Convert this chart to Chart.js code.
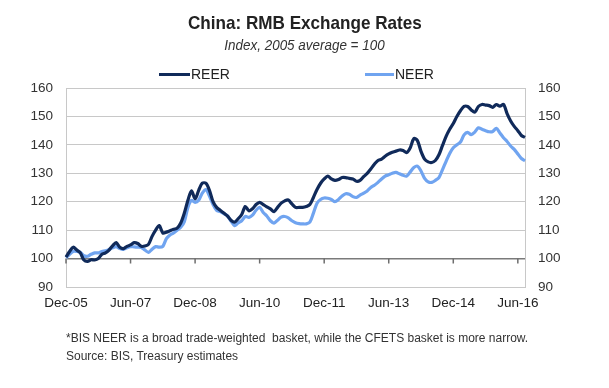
<!DOCTYPE html>
<html>
<head>
<meta charset="utf-8">
<script src="https://cdn.jsdelivr.net/npm/chart.js@4.4.1/dist/chart.umd.min.js"></script>
<style>
    body { margin: 0; background: #fff; }
    #wrap { position: relative; width: 609px; height: 388px; overflow: hidden; background: #fff;
        font-family: 'Liberation Sans Narrow', 'Arial Narrow', 'Liberation Sans', Arial, sans-serif; color: #222; }
    #chart { position: absolute; left: 0; top: 0; }
    .title { position: absolute; left: 0; width: 609px; text-align: center; white-space: nowrap; }
    .title span { display: inline-block; }
    .legend-line { position: absolute; height: 3px; }
    .legend-text { position: absolute; font-size: 14px; line-height: 16px; color: #222; }
    .note { position: absolute; left: 66px; font-size: 12px; line-height: 14px; color: #333; white-space: nowrap; }
</style>
</head>
<body>
<div id="wrap">
    <canvas id="chart" width="609" height="388"></canvas>
    <div class="title" style="top: 12px; font-size: 19px; line-height: 22px; font-weight: bold;"><span style="transform: scaleX(0.9);">China: RMB Exchange Rates</span></div>
    <div class="title" style="top: 37px; font-size: 14px; line-height: 16px; font-style: italic; color: #333;"><span style="transform: scaleX(0.96);">Index, 2005 average = 100</span></div>

    <div class="legend-line" style="left: 159px; top: 73px; width: 31px; background: #102a5a;"></div>
    <div class="legend-text" style="left: 191px; top: 66px;">REER</div>
    <div class="legend-line" style="left: 365px; top: 73px; width: 29px; background: #70a4f0;"></div>
    <div class="legend-text" style="left: 395px; top: 66px;">NEER</div>

    <div class="note" style="top: 331px;">*BIS NEER is a broad trade-weighted&nbsp; basket, while the CFETS basket is more narrow.</div>
    <div class="note" style="top: 349px;">Source: BIS, Treasury estimates</div>
</div>

<script>
// monthly, Dec-05 .. Aug-16
const monthNames = ['Jan', 'Feb', 'Mar', 'Apr', 'May', 'Jun', 'Jul', 'Aug', 'Sep', 'Oct', 'Nov', 'Dec'];
const months = [];
for (let i = 0; i < 129; i++) {
    const m = (11 + i) % 12;
    const y = 5 + Math.floor((11 + i) / 12);
    months.push(monthNames[m] + '-' + String(y).padStart(2, '0'));
}

const tickLabels = ['Dec-05', 'Jun-07', 'Dec-08', 'Jun-10', 'Dec-11', 'Jun-13', 'Dec-14', 'Jun-16'];
const yTicks = [90, 100, 110, 120, 130, 140, 150, 160];

const reer = [
    100.5, 102.5, 104, 103, 102, 99.5, 99, 99.6, 99.5, 100, 101.5, 102,
    103, 104.5, 105.6, 104, 103.5, 104.3, 104.8, 105.6, 105.3, 104.3, 104.4, 105,
    107.8, 110, 111.6, 109, 109.3, 109.8, 110.3, 110.7, 112.5, 116, 120.5, 123.8,
    121, 124, 126.5, 126.5, 124, 120, 118, 117, 116, 115, 113.5, 112.8,
    114, 115.5, 118.3, 116.8, 117.5, 119, 119.8, 119, 118.2, 117.5, 116.5, 118,
    119.5, 120.3, 120.6, 119.2, 118, 118, 118, 118.3, 119, 121.5, 124.3, 126.5,
    128, 129, 128, 127.5, 127.8, 128.5, 128.5, 128.2, 128, 127.2, 127.5, 128.8,
    130, 131.5, 133.2, 134.5, 135, 136, 136.8, 137.4, 137.8, 138.2, 138, 137.3,
    139, 142.2, 141.5, 137.7, 135, 134, 133.8, 134.5, 136.5, 139.8, 143, 145.5,
    147.5, 150, 152, 153.5, 153.5, 152.3, 151.5, 153.5, 154.2, 154, 153.8, 153.2,
    154.2, 153.6, 154.2, 151, 148.4, 146.5, 145, 143.3, 142.6
];

const neer = [
    100.3, 101.5, 102.5, 102.5, 102.2, 101, 100.8, 101.5, 102, 102, 102.5, 102.7,
    103.2, 103.8, 104.2, 103.5, 103.2, 103.8, 104.2, 104.1, 104, 103.9, 103, 102.2,
    103.3, 104.2, 104, 104.3, 107, 108.3, 109, 110, 111, 113, 118, 120.5,
    119.8, 120.5, 123, 124.3, 122, 119, 117, 116.5, 115.8, 115, 113.2, 111.6,
    112.5, 113.3, 114.8, 114.5, 115.3, 117, 118, 116.2, 115, 113.3, 112.5, 113.5,
    114.6, 114.8, 114.3, 113.3, 112.6, 112.3, 112.2, 112.2, 112.8, 116, 119.5, 120.8,
    121.3, 121.2, 120.8, 120, 120.8, 122, 122.8, 122.6, 121.8, 121.5, 122.3, 123,
    123.8, 125, 125.8, 126.8, 128, 129, 129.5, 130, 130.3, 129.8, 129.3, 129,
    130.5, 132, 132.5, 130.8, 128.2, 127, 126.8, 127.5, 128.5, 131.3, 134.2, 137,
    139, 140, 141, 143.5, 144.4, 143.6, 144.5, 146, 145.5, 145, 144.6, 144.7,
    145.8, 144.2, 142.5, 141.2, 139.6, 138.4, 136.8, 135.2, 134.4
];

const navy = '#102a5a';
const lightBlue = '#70a4f0';
const gridGray = '#c8c8c8';

Chart.defaults.font.family = "'Liberation Sans Narrow', 'Arial Narrow', 'Liberation Sans', Arial, sans-serif";
Chart.defaults.font.size = 13.5;
Chart.defaults.color = '#333';

// small tick marks hanging under the 100 line
const baseTicks = {
    id: 'baseTicks',
    beforeDatasetsDraw(chart) {
        const { ctx, scales: { x, y } } = chart;
        const y0 = y.getPixelForValue(100);
        ctx.save();
        ctx.strokeStyle = '#6e6e6e';
        ctx.lineWidth = 1.5;
        ctx.beginPath();
        months.forEach((m, i) => {
            if (!tickLabels.includes(m)) return;
            const px = x.getPixelForValue(i);
            ctx.moveTo(px, y0);
            ctx.lineTo(px, y0 + 5);
        });
        ctx.stroke();
        ctx.restore();
    }
};

new Chart(document.getElementById('chart'), {
    type: 'line',
    data: {
        labels: months,
        datasets: [
            {
                label: 'NEER',
                data: neer,
                borderColor: lightBlue,
                borderWidth: 3.2,
                pointRadius: 0,
                tension: 0.3,
                order: 2
            },
            {
                label: 'REER',
                data: reer,
                borderColor: navy,
                borderWidth: 3.2,
                pointRadius: 0,
                tension: 0.3,
                order: 1
            }
        ]
    },
    options: {
        responsive: false,
        animation: false,
        layout: { padding: { top: 88, left: 0, right: 0, bottom: 0 } },
        plugins: {
            legend: { display: false },
            tooltip: { enabled: false }
        },
        scales: {
            x: {
                offset: false,
                grid: { display: false, drawTicks: false },
                border: { color: gridGray },
                ticks: {
                    autoSkip: false,
                    maxRotation: 0,
                    padding: 8,
                    color: '#222',
                    callback(value) {
                        const m = months[value];
                        return tickLabels.includes(m) ? m : '';
                    }
                },
                afterFit(scale) { scale.height = 101; }
            },
            y: {
                position: 'left',
                min: 90,
                max: 160,
                afterBuildTicks(scale) { scale.ticks = yTicks.map(v => ({ value: v })); },
                grid: {
                    drawTicks: false,
                    color: ctx => ctx.tick && ctx.tick.value === 100 ? '#7a7a7a' : gridGray,
                    lineWidth: ctx => ctx.tick && ctx.tick.value === 100 ? 1.5 : 1
                },
                border: { color: gridGray },
                ticks: { padding: 13, color: '#333' },
                afterFit(scale) { scale.width = 66; }
            },
            y2: {
                position: 'right',
                display: true,
                min: 90,
                max: 160,
                afterBuildTicks(scale) { scale.ticks = yTicks.map(v => ({ value: v })); },
                grid: { drawOnChartArea: false, drawTicks: false },
                border: { color: gridGray },
                ticks: { padding: 13, color: '#333' },
                afterFit(scale) { scale.width = 84; }
            }
        }
    },
    plugins: [baseTicks]
});
</script>
</body>
</html>
